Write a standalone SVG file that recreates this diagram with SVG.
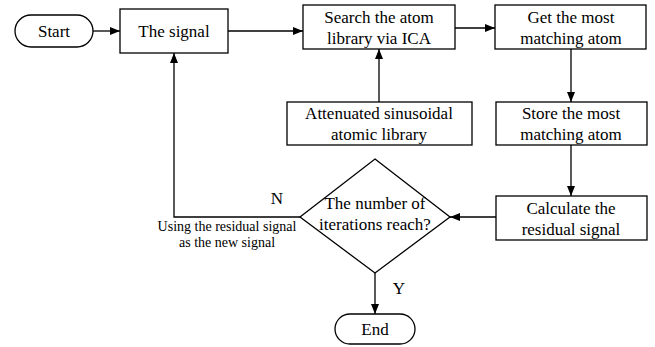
<svg xmlns="http://www.w3.org/2000/svg" width="655" height="347" viewBox="0 0 655 347">
<style>
.box{fill:#fff;stroke:#000;stroke-width:1.3}
.ln{fill:none;stroke:#000;stroke-width:1.3}
text{font-family:"Liberation Serif","Times New Roman",serif;font-size:17px;fill:#000;text-anchor:middle}
.sm{font-size:14px}
</style>
<defs>
<marker id="ah" viewBox="0 0 10 10" refX="10" refY="5" markerWidth="10" markerHeight="10" markerUnits="userSpaceOnUse" orient="auto">
<path d="M0,1 L10,5 L0,9 Z" fill="#000"/>
</marker>
</defs>
<g id="connectors">
<line class="ln" x1="93" y1="31" x2="120" y2="31" marker-end="url(#ah)"/>
<line class="ln" x1="228" y1="31" x2="303" y2="31" marker-end="url(#ah)"/>
<line class="ln" x1="455" y1="28" x2="495" y2="28" marker-end="url(#ah)"/>
<line class="ln" x1="379" y1="102" x2="379" y2="49" marker-end="url(#ah)"/>
<line class="ln" x1="571" y1="49" x2="571" y2="102" marker-end="url(#ah)"/>
<line class="ln" x1="571" y1="145" x2="571" y2="196" marker-end="url(#ah)"/>
<line class="ln" x1="496" y1="217" x2="450" y2="217" marker-end="url(#ah)"/>
<polyline class="ln" points="300,217 174,217 174,53" marker-end="url(#ah)"/>
<line class="ln" x1="375" y1="273" x2="375" y2="314" marker-end="url(#ah)"/>
<text x="277" y="204">N</text>
<text x="399" y="294">Y</text>
<text class="sm" x="227" y="231">Using the residual signal</text>
<text class="sm" x="227" y="247">as the new signal</text>
</g>
<g id="start">
<rect class="box" x="15" y="15" width="78" height="32" rx="16"/>
<text x="54" y="37">Start</text>
</g>
<g id="signal">
<rect class="box" x="120" y="9" width="108" height="44"/>
<text x="174" y="37">The signal</text>
</g>
<g id="search">
<rect class="box" x="303" y="5" width="152" height="44"/>
<text x="379" y="23">Search the atom</text>
<text x="379" y="44">library via ICA</text>
</g>
<g id="get">
<rect class="box" x="495" y="5" width="151" height="44"/>
<text x="571" y="23">Get the most</text>
<text x="571" y="44">matching atom</text>
</g>
<g id="library">
<rect class="box" x="287" y="102" width="185" height="43"/>
<text x="379" y="119">Attenuated sinusoidal</text>
<text x="379" y="140">atomic library</text>
</g>
<g id="store">
<rect class="box" x="496" y="102" width="151" height="43"/>
<text x="571" y="119">Store the most</text>
<text x="571" y="140">matching atom</text>
</g>
<g id="calc">
<rect class="box" x="496" y="196" width="151" height="44"/>
<text x="571" y="214">Calculate the</text>
<text x="571" y="235">residual signal</text>
</g>
<g id="decision">
<polygon class="box" points="375,159 450,217 375,273 300,217"/>
<text x="375" y="209">The number of</text>
<text x="375" y="230">iterations reach?</text>
</g>
<g id="end">
<rect class="box" x="335" y="314" width="80" height="30" rx="15"/>
<text x="375" y="335">End</text>
</g>
</svg>
